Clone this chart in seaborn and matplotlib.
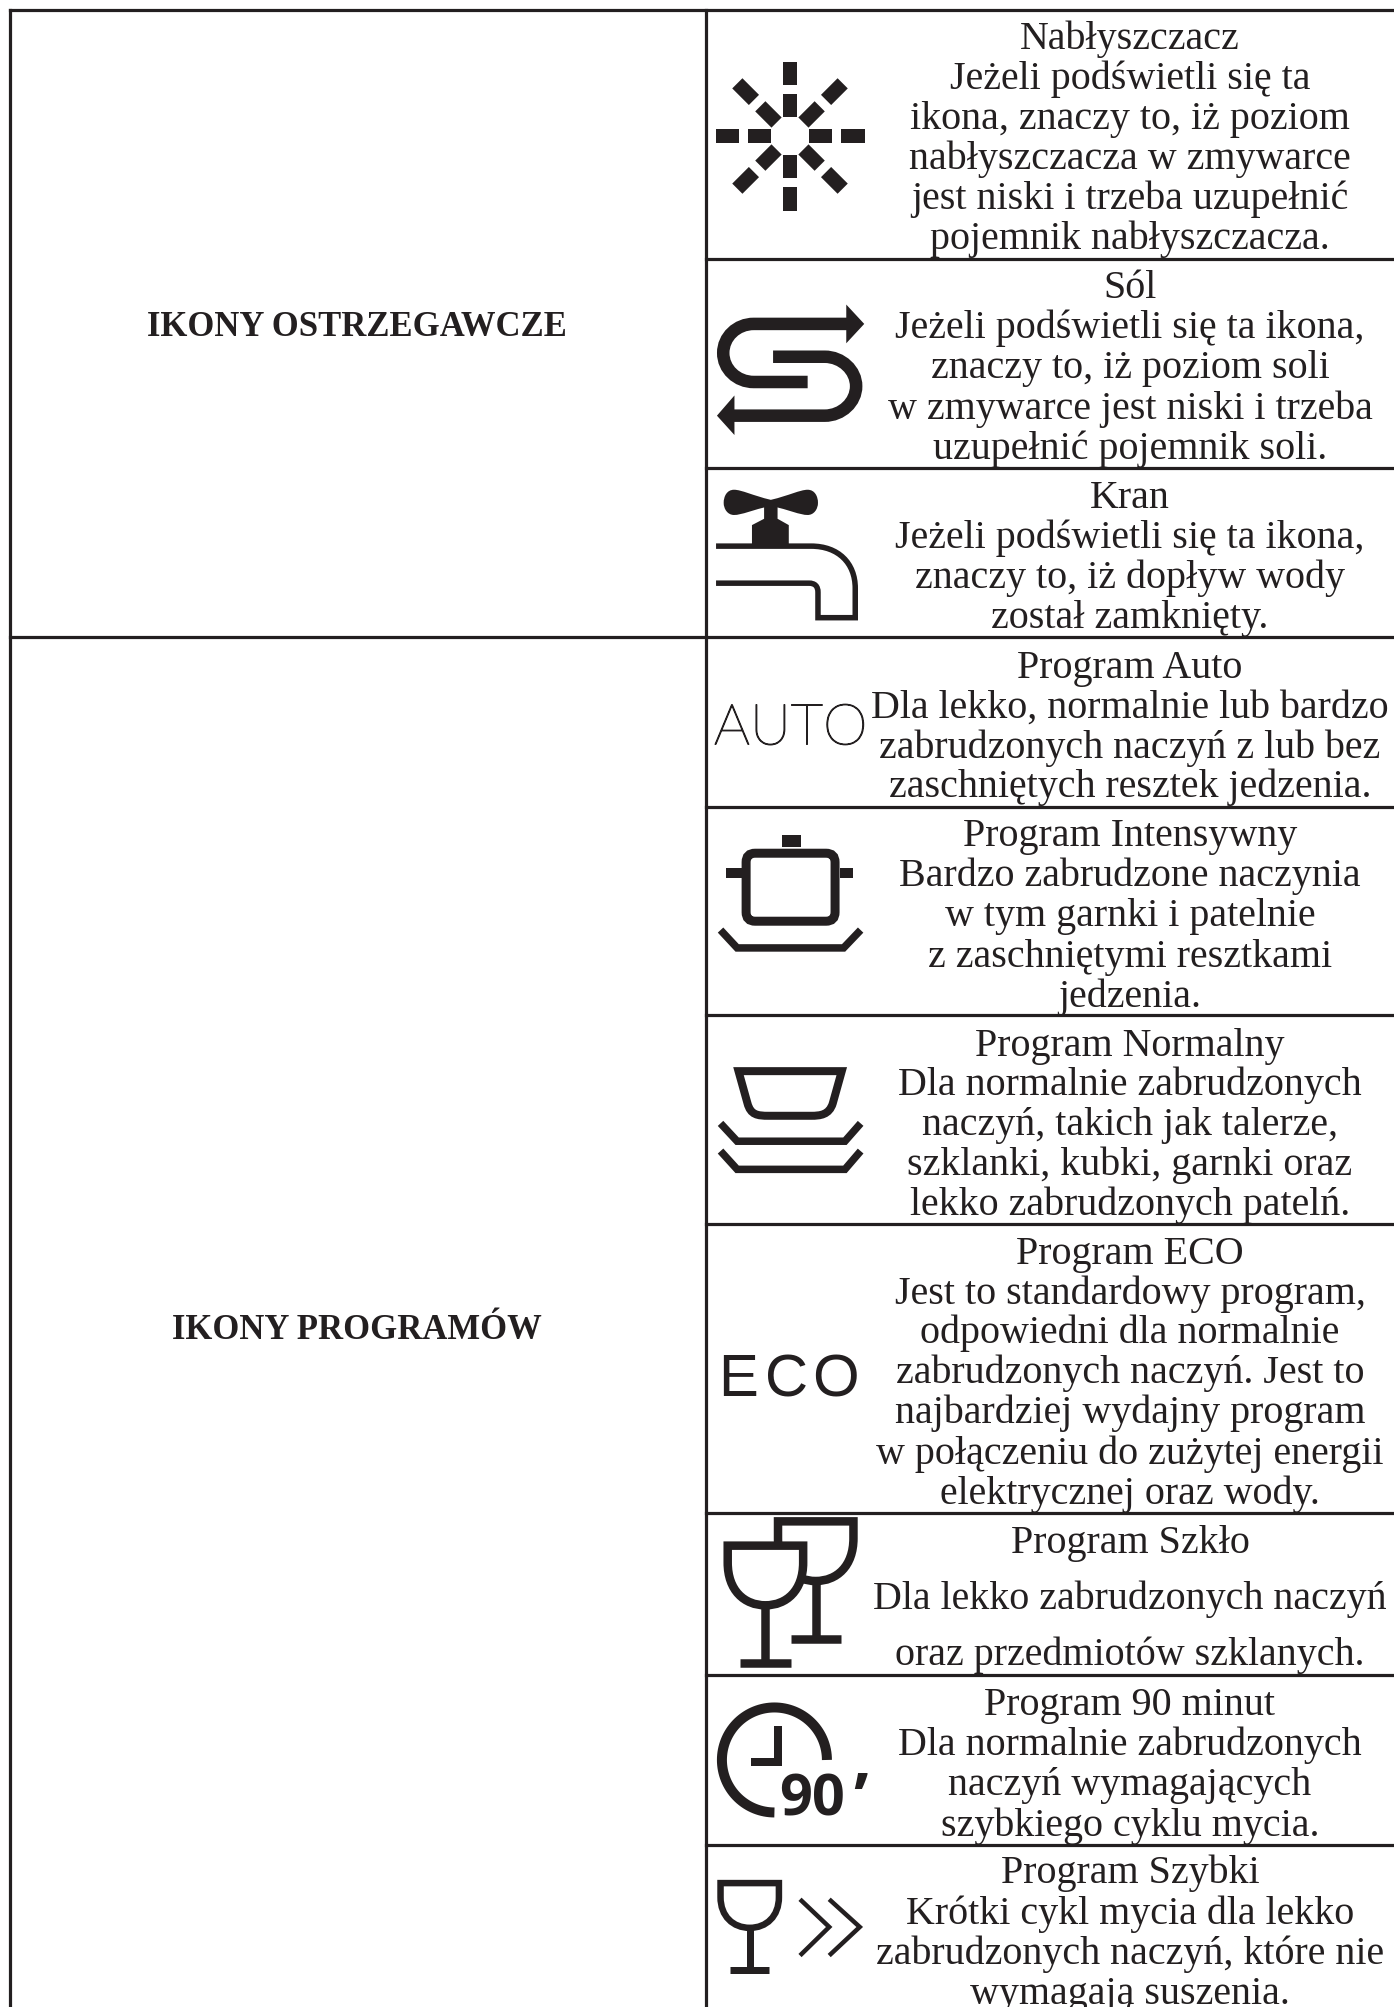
import numpy as np
import pandas as pd
import matplotlib
matplotlib.use("Agg")
import matplotlib.pyplot as plt
import matplotlib.patheffects as pe
from matplotlib.path import Path
from matplotlib.patches import PathPatch, Polygon, FancyBboxPatch
import seaborn as sns

# ---- content -------------------------------------------------------------
section_labels = ["IKONY OSTRZEGAWCZE", "IKONY PROGRAMÓW"]
section_baselines = [336.5, 1339]
row_rules = [11, 260, 468.5, 637.5, 807.5, 1016, 1225, 1514, 1676, 1846]
section_rules = [11, 637.5]
left_x, mid_x, right_x, bottom_y = 9.5, 706, 1394, 2008

row_texts = [
    ["Nabłyszczacz", "Jeżeli podświetli się ta", "ikona, znaczy to, iż poziom",
     "nabłyszczacza w zmywarce", "jest niski i trzeba uzupełnić", "pojemnik nabłyszczacza."],
    ["Sól", "Jeżeli podświetli się ta ikona,", "znaczy to, iż poziom soli",
     "w zmywarce jest niski i trzeba", "uzupełnić pojemnik soli."],
    ["Kran", "Jeżeli podświetli się ta ikona,", "znaczy to, iż dopływ wody", "został zamknięty."],
    ["Program Auto", "Dla lekko, normalnie lub bardzo", "zabrudzonych naczyń z lub bez",
     "zaschniętych resztek jedzenia."],
    ["Program Intensywny", "Bardzo zabrudzone naczynia", "w tym garnki i patelnie",
     "z zaschniętymi resztkami", "jedzenia."],
    ["Program Normalny", "Dla normalnie zabrudzonych", "naczyń, takich jak talerze,",
     "szklanki, kubki, garnki oraz", "lekko zabrudzonych patelń."],
    ["Program ECO", "Jest to standardowy program,", "odpowiedni dla normalnie",
     "zabrudzonych naczyń. Jest to", "najbardziej wydajny program",
     "w połączeniu do zużytej energii", "elektrycznej oraz wody."],
    ["Program Szkło", "Dla lekko zabrudzonych naczyń", "oraz przedmiotów szklanych."],
    ["Program 90 minut", "Dla normalnie zabrudzonych", "naczyń wymagających", "szybkiego cyklu mycia."],
    ["Program Szybki", "Krótki cykl mycia dla lekko", "zabrudzonych naczyń, które nie", "wymagają suszenia."],
]
row_baselines = [
    [49, 89, 129, 169, 209, 249],
    [298, 338, 378, 419, 459],
    [508, 548, 588, 628],
    [678, 718, 758, 797],
    [846, 886, 926, 967, 1007],
    [1056, 1095, 1135, 1175, 1215],
    [1264, 1304, 1343, 1383, 1423, 1464, 1504],
    [1553, 1609, 1665],
    [1715, 1755, 1795, 1836],
    [1883, 1924, 1964, 2004],
]
text_center_x = 1130
label_center_x = 357
INK = "#231f20"

# ---- figure --------------------------------------------------------------
sns.set_theme(style="white")
plt.rcParams["font.family"] = ["Liberation Serif", "DejaVu Serif"]
fig = plt.figure(figsize=(13.94, 20.08), dpi=100, facecolor="white")
ax = fig.add_axes([0, 0, 1, 1])

# ---- table rules through seaborn ------------------------------------------
segs = []
for i, y in enumerate(row_rules):
    x0 = left_x if y in section_rules else mid_x
    segs += [dict(seg=f"h{i}", x=x0, y=y), dict(seg=f"h{i}", x=right_x, y=y)]
for i, x in enumerate([left_x, mid_x]):
    segs += [dict(seg=f"v{i}", x=x, y=row_rules[0]), dict(seg=f"v{i}", x=x, y=bottom_y)]
rules = pd.DataFrame(segs)
sns.lineplot(data=rules, x="x", y="y", units="seg", estimator=None, sort=False,
             color=INK, linewidth=2.3, ax=ax, legend=False, solid_capstyle="projecting")
ax.set_xlim(0, 1394)
ax.set_ylim(2008, 0)
ax.axis("off")

# ---- text -------------------------------------------------------------------
for lines, ys in zip(row_texts, row_baselines):
    for s, y in zip(lines, ys):
        ax.text(text_center_x, y, s, ha="center", va="baseline", fontsize=28.8, color=INK)
for s, y in zip(section_labels, section_baselines):
    ax.text(label_center_x, y, s, ha="center", va="baseline", fontsize=24.9,
            fontweight="bold", color=INK)

# ---- icon helpers -----------------------------------------------------------
def mapper(y0, fy):
    fx = 2.227
    return lambda pts: [(690 + x / fx, y0 + y / fy) for x, y in pts]

def stroke(pts, lw, join="miter", cap="butt", z=3):
    v = list(pts)
    codes = [Path.MOVETO] + [Path.LINETO] * (len(v) - 1)
    ax.add_patch(PathPatch(Path(v, codes), fc="none", ec=INK, lw=lw * 0.72,
                           joinstyle=join, capstyle=cap, zorder=z))

def curved(verts, codes, lw, fc="none", ec=INK, z=3):
    ax.add_patch(PathPatch(Path(verts, codes), fc=fc, ec=ec, lw=lw * 0.72,
                           joinstyle="miter", capstyle="butt", zorder=z))

def fill(pts, z=3):
    ax.add_patch(Polygon(pts, closed=True, fc=INK, ec="none", zorder=z))

M, L, C4, Z = Path.MOVETO, Path.LINETO, Path.CURVE4, Path.CLOSEPOLY

# sun
cx, cy = 790, 137
for a in np.deg2rad(np.arange(0, 360, 45)):
    d = np.array([np.cos(a), np.sin(a)])
    n = np.array([-d[1], d[0]])
    for r0, r1 in [(19, 42), (51, 74.5)]:
        w = 7.2
        c = np.array([cx, cy])
        fill([c + d * r0 + n * w, c + d * r1 + n * w, c + d * r1 - n * w, c + d * r0 - n * w])

# salt
t = mapper(0, 2.376)
v = t([(350, 772), (142, 772), (104, 772), (74, 803), (74, 841), (74, 879), (104, 910), (142, 910), (262, 910)])
curved(v, [M, L, C4, C4, C4, C4, C4, C4, L], 12.5)
v = t([(185, 850), (300, 850), (338, 850), (370, 882), (370, 920), (370, 958), (338, 990), (300, 990), (98, 990)])
curved(v, [M, L, C4, C4, C4, C4, C4, C4, L], 12.5)
fill(t([(348, 726), (388, 772), (348, 818)]))
fill(t([(99, 942), (60, 990), (99, 1036)]))

# tap
v = t([(180, 1190),
       (140, 1180), (115, 1166), (98, 1166),
       (82, 1166), (75, 1182), (75, 1197),
       (75, 1212), (84, 1226), (98, 1226),
       (115, 1226), (140, 1214), (180, 1204),
       (220, 1214), (245, 1226), (262, 1226),
       (276, 1226), (285, 1212), (285, 1197),
       (285, 1182), (278, 1166), (262, 1166),
       (245, 1166), (220, 1180), (180, 1190),
       (180, 1190)])
curved(v, [M] + [C4] * 24 + [Z], 0, fc=INK)
fill(t([(165, 1200), (195, 1200), (195, 1235), (220, 1250), (220, 1300), (138, 1300), (138, 1250), (165, 1235)]))
v = t([(58, 1300), (270, 1300), (330, 1300), (368, 1340), (368, 1400), (368, 1470), (285, 1470), (285, 1410),
       (285, 1395), (278, 1388), (265, 1388), (58, 1388)])
curved(v, [M, L, C4, C4, C4, L, L, L, C4, C4, C4, L], 5.5)

# AUTO
ax.text(690 + 224 / 2.227, 640 + 236 / 2.24, "AUTO", ha="center", va="baseline", color=INK,
        fontsize=40.8, family="Lato", fontweight="light",
        path_effects=[pe.withStroke(linewidth=0.9, foreground=INK)])

# pot
t = mapper(640, 2.24)
ax.add_patch(FancyBboxPatch((690 + 145 / 2.227, 640 + 500 / 2.24), 158 / 2.227, 112 / 2.24,
                            boxstyle="round,pad=9,rounding_size=9", fc="none", ec=INK, lw=9 * 0.72, zorder=3))
fill(t([(205, 440), (247, 440), (247, 465), (205, 465)]))
fill(t([(80, 513), (115, 513), (115, 535), (80, 535)]))
fill(t([(333, 513), (363, 513), (363, 535), (333, 535)]))
stroke(t([(68, 652), (105, 692), (342, 692), (380, 652)]), 7.5)

# bowl and plates
v = t([(108, 968), (338, 968), (318, 1040), (310, 1066), (290, 1068), (270, 1068), (175, 1068), (150, 1068),
       (135, 1066), (128, 1040), (108, 968), (108, 968)])
curved(v, [M, L, L, C4, C4, C4, L, C4, C4, C4, L, Z], 8)
stroke(t([(68, 1085), (105, 1125), (345, 1125), (380, 1085)]), 7.5)
stroke(t([(68, 1147), (105, 1188), (345, 1188), (380, 1147)]), 7.5)

# ECO
t = mapper(1340, 2.347)
for ch, zx in zip("ECO", [108, 216, 323]):
    ax.text(690 + zx / 2.227, 1340 + 132 / 2.347, ch, ha="center", va="baseline", color=INK,
            fontsize=43, family="Liberation Sans")

# wine glasses
def glass(dx, dy, base_half, stem_bottom, lw, z=3):
    cx0, top = 168 + dx, 485 + dy
    hw, bot, shoulder = 84, top + 140, top + 40
    v = t([(cx0 - hw, top), (cx0 + hw, top), (cx0 + hw, shoulder),
           (cx0 + hw, top + 105), (cx0 + 47, bot), (cx0, bot),
           (cx0 - 47, bot), (cx0 - hw, top + 105), (cx0 - hw, shoulder), (cx0 - hw, top), (cx0 - hw, top)])
    curved(v, [M, L, L, C4, C4, C4, C4, C4, C4, L, Z], lw, fc="white", z=z)
    stroke(t([(cx0, bot), (cx0, stem_bottom)]), lw, z=z)
    stroke(t([(cx0 - base_half, stem_bottom), (cx0 + base_half, stem_bottom)]), lw, z=z)

glass(112, -57, 56, 703, 8.5, z=3)
glass(0, 0, 56, 760, 8.5, z=4)

# clock
theta = np.deg2rad(np.linspace(0, 270, 100))
ccx, ccy, rad = 690 + 188 / 2.227, 1340 + 988 / 2.347, 52.5
stroke(list(zip(ccx + rad * np.cos(theta), ccy - rad * np.sin(theta))), 10)
stroke(t([(197, 908), (197, 993), (135, 993)]), 8)
ax.text(690 + 198 / 2.227, 1340 + 1115 / 2.347, "90", ha="left", va="baseline", color=INK,
        fontsize=41.5, family="Open Sans", fontweight="bold")
ax.text(690 + 396 / 2.227, 1820, "’", ha="right", va="baseline", color=INK,
        fontsize=48, family="Open Sans", fontweight="bold")

# fast glass
v = t([(68, 1277), (198, 1277), (198, 1310), (198, 1355), (170, 1382), (133, 1382),
       (96, 1382), (68, 1355), (68, 1310), (68, 1277), (68, 1277)])
curved(v, [M, L, L, C4, C4, C4, C4, C4, C4, L, Z], 6.5)
stroke(t([(133, 1382), (133, 1482)]), 7)
stroke(t([(90, 1482), (175, 1482)]), 7)
stroke(t([(245, 1315), (310, 1380), (245, 1447)]), 4.5)
stroke(t([(310, 1315), (378, 1380), (310, 1447)]), 4.5)

fig.savefig("out.png", dpi=100, facecolor="white")
